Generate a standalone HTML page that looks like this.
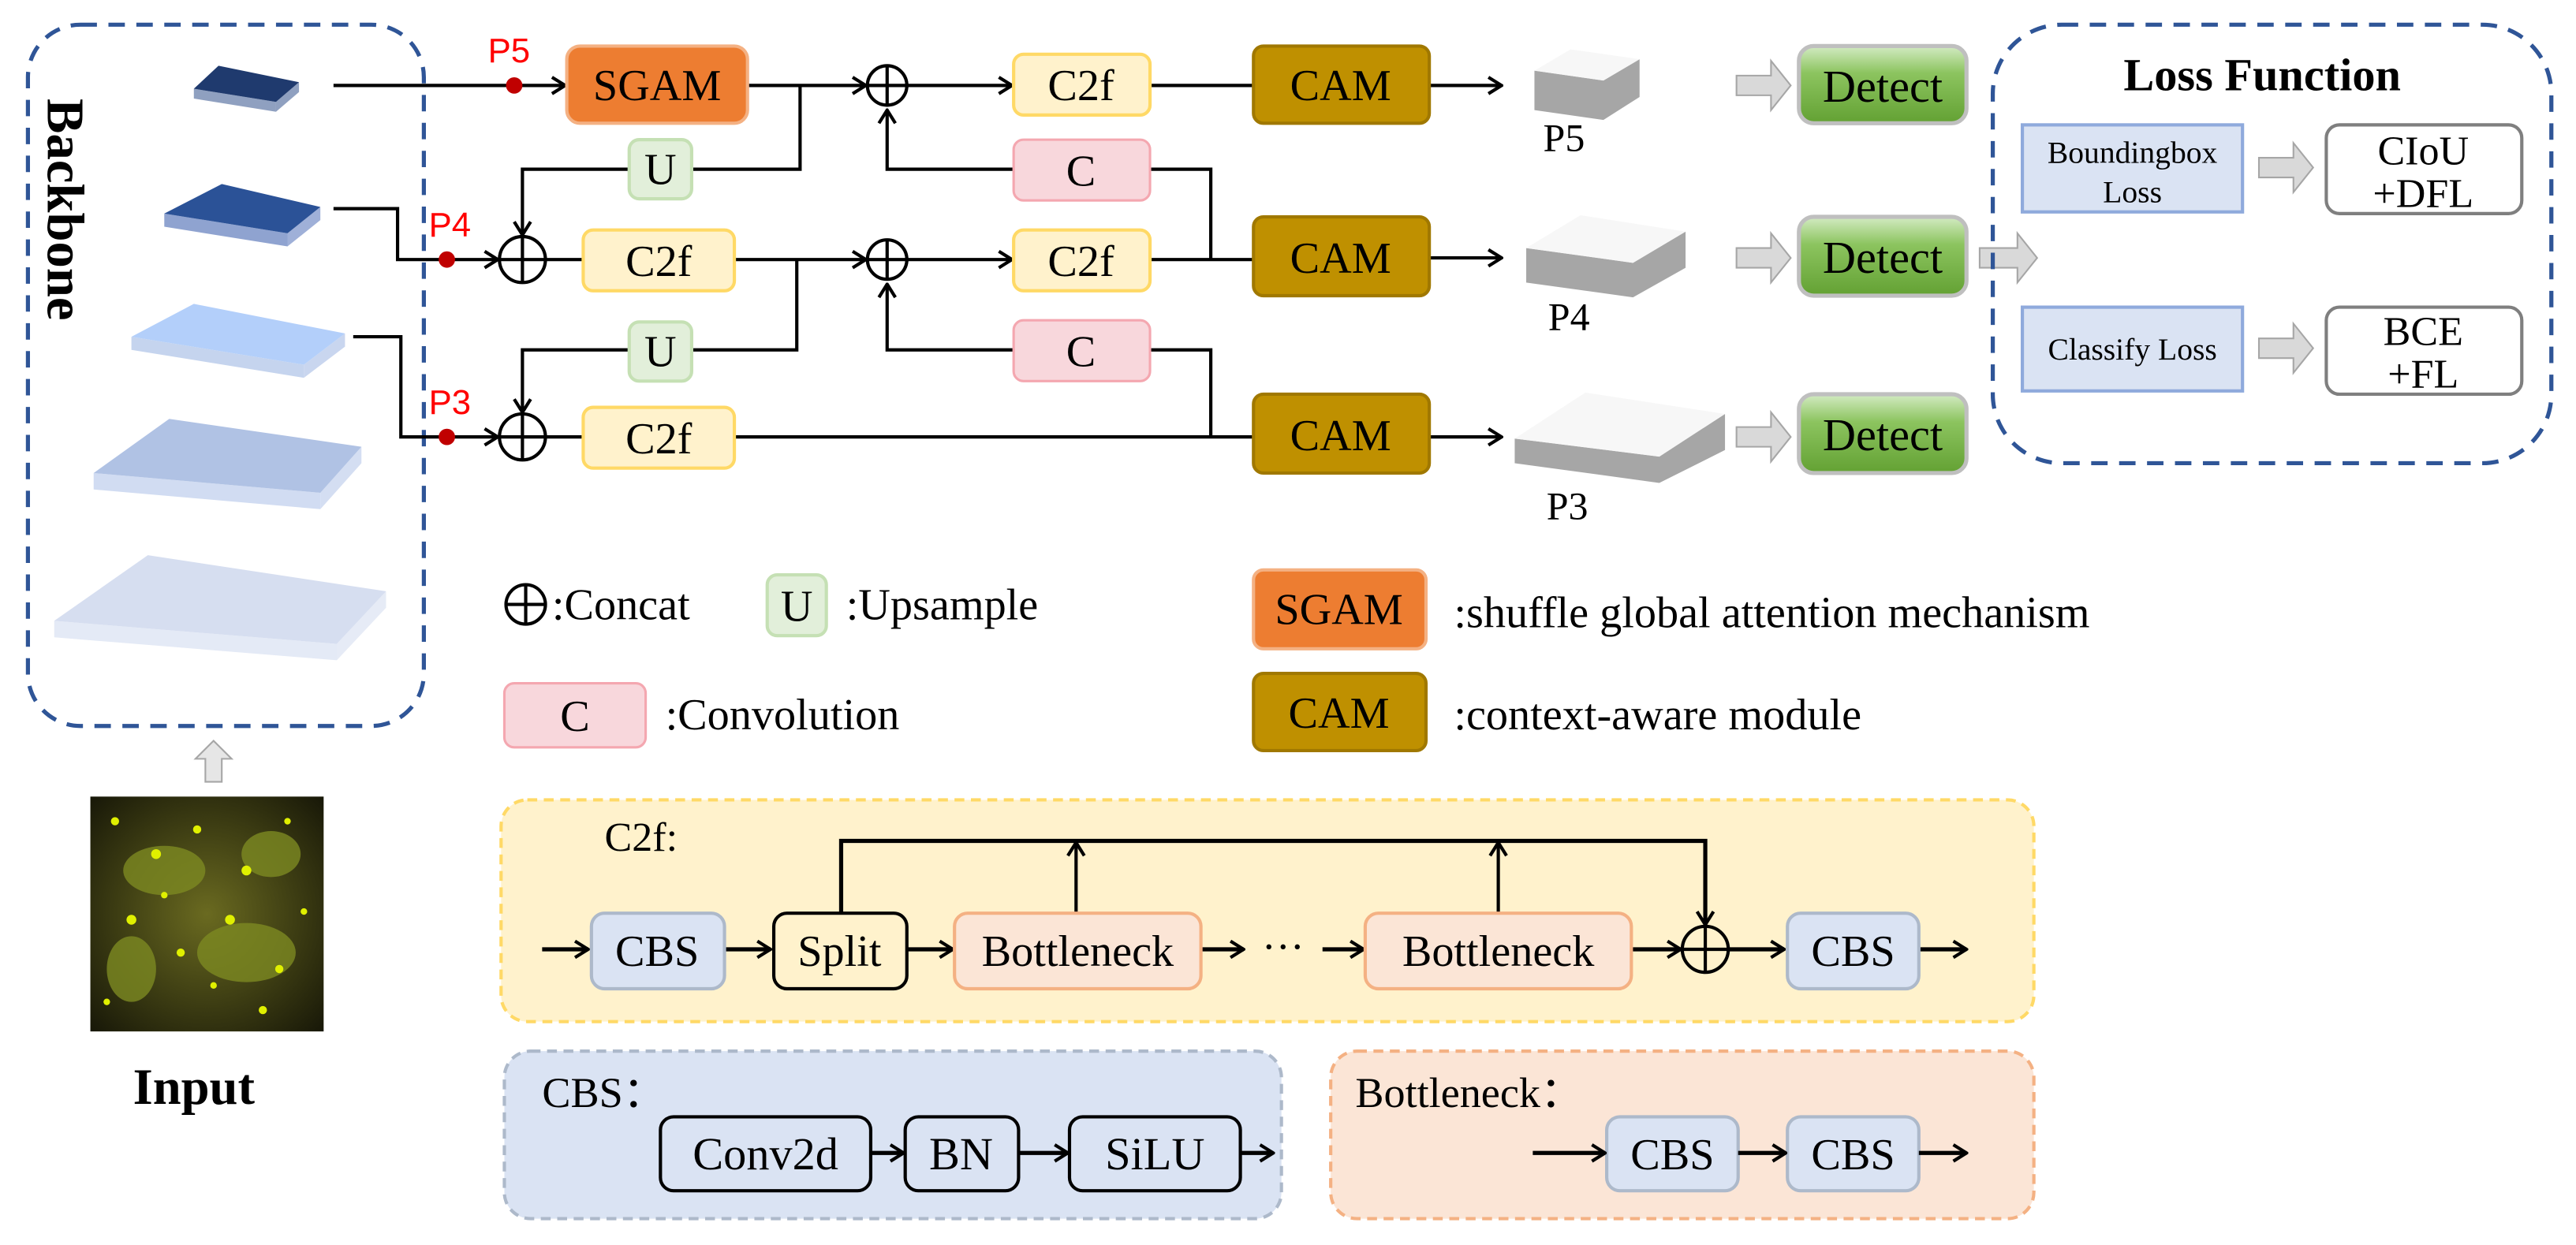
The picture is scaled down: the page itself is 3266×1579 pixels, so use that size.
<!DOCTYPE html>
<html><head><meta charset="utf-8"><style>
html,body{margin:0;padding:0;background:#fff;}
svg{display:block;}
text{font-family:"Liberation Serif",serif;}
</style></head><body>
<svg width="3266" height="1579" viewBox="0 0 1568 758" xmlns="http://www.w3.org/2000/svg">
<defs>
<marker id="a" markerWidth="10" markerHeight="12" refX="9" refY="6" orient="auto" markerUnits="userSpaceOnUse">
<path d="M1,1 L9,6 L1,11" fill="none" stroke="#000" stroke-width="2"/></marker>
<linearGradient id="g" x1="0" y1="0" x2="0" y2="1"><stop offset="0" stop-color="#d3ebc3"/><stop offset="0.35" stop-color="#8cc45f"/><stop offset="1" stop-color="#63a133"/></linearGradient>
<radialGradient id="inp" cx="0.5" cy="0.5" r="0.7"><stop offset="0" stop-color="#6a6a20"/><stop offset="1" stop-color="#181808"/></radialGradient>
</defs>

<!-- Backbone -->
<rect x="17" y="15" width="241" height="427" rx="32" fill="none" stroke="#2f5597" stroke-width="2.5" stroke-dasharray="10,7"/>
<text transform="translate(29,60) rotate(90)" font-size="32" font-weight="bold">Backbone</text>
<polygon points="118,54 168,62 168,68 118,60" fill="#8fa0c0"/><polygon points="168,62 182,50 182,56 168,68" fill="#8fa0c0"/>
<polygon points="133,40 182,50 168,62 118,54" fill="#1f3a6e"/>
<polygon points="100,130 175,142 175,150 100,138" fill="#8fa3d0"/><polygon points="175,142 195,126 195,134 175,150" fill="#9fb0d8"/>
<polygon points="135,112 195,126 175,142 100,130" fill="#2b5297"/>
<polygon points="80,205 185,222 185,230 80,213" fill="#c5d4ee"/><polygon points="185,222 210,203 210,211 185,230" fill="#c9d6ef"/>
<polygon points="118,185 210,203 185,222 80,205" fill="#b3cffa"/>
<polygon points="57,288 195,300 195,310 57,298" fill="#d1dcf2"/><polygon points="195,300 220,272 220,282 195,310" fill="#d4def2"/>
<polygon points="103,255 220,272 195,300 57,288" fill="#b0c2e4"/>
<polygon points="33,378 205,392 205,402 33,388" fill="#e4eaf6"/><polygon points="205,392 235,360 235,370 205,402" fill="#e6ebf6"/>
<polygon points="90,338 235,360 205,392 33,378" fill="#d6def0"/>
<!-- input -->
<polygon points="125,476 135,476 135,462 141,462 130,451 119,462 125,462" fill="#e6e6e6" stroke="#a6a6a6" stroke-width="1"/>
<rect x="55" y="485" width="142" height="143" fill="url(#inp)"/>
<g fill="#7d8a22" opacity="0.8"><ellipse cx="100" cy="530" rx="25" ry="15"/><ellipse cx="150" cy="580" rx="30" ry="18"/><ellipse cx="80" cy="590" rx="15" ry="20"/><ellipse cx="165" cy="520" rx="18" ry="14"/></g>
<g fill="#e0f000">
<circle cx="70" cy="500" r="2.5"/><circle cx="95" cy="520" r="3"/><circle cx="120" cy="505" r="2.5"/><circle cx="150" cy="530" r="3"/><circle cx="175" cy="500" r="2"/><circle cx="80" cy="560" r="3"/><circle cx="110" cy="580" r="2.5"/><circle cx="140" cy="560" r="3"/><circle cx="170" cy="590" r="2.5"/><circle cx="65" cy="610" r="2"/><circle cx="100" cy="545" r="2"/><circle cx="160" cy="615" r="2.5"/><circle cx="185" cy="555" r="2"/><circle cx="130" cy="600" r="2"/></g>
<text x="118" y="672" font-size="31" font-weight="bold" text-anchor="middle">Input</text>

<!-- connections -->
<g stroke="#000" stroke-width="2" fill="none">
<line x1="203" y1="52" x2="344" y2="52" marker-end="url(#a)"/>
<polyline points="203,127 242,127 242,158 303,158" marker-end="url(#a)"/>
<polyline points="215,205 244,205 244,266 303,266" marker-end="url(#a)"/>
<polyline points="455,52 527,52" marker-end="url(#a)"/>
<polyline points="487,52 487,103 421,103"/>
<polyline points="383,103 318,103 318,143" marker-end="url(#a)"/>
<line x1="332" y1="158" x2="355" y2="158"/>
<polyline points="447,158 527,158" marker-end="url(#a)"/>
<polyline points="485,158 485,213 421,213"/>
<polyline points="383,213 318,213 318,251" marker-end="url(#a)"/>
<line x1="332" y1="266" x2="355" y2="266"/>
<line x1="447" y1="266" x2="763" y2="266"/>
<polyline points="552,52 616,52" marker-end="url(#a)"/>
<polyline points="552,158 616,158" marker-end="url(#a)"/>
<line x1="700" y1="52" x2="763" y2="52"/>
<line x1="700" y1="158" x2="763" y2="158"/>
<polyline points="700,103 737,103 737,158"/>
<polyline points="700,213 737,213 737,266"/>
<polyline points="617,103 540,103 540,67" marker-end="url(#a)"/>
<polyline points="617,213 540,213 540,173" marker-end="url(#a)"/>
<line x1="870" y1="52" x2="914" y2="52" marker-end="url(#a)"/>
<line x1="870" y1="157" x2="914" y2="157" marker-end="url(#a)"/>
<line x1="870" y1="266" x2="914" y2="266" marker-end="url(#a)"/>
</g>
<g fill="#c00000"><circle cx="313" cy="52" r="5"/><circle cx="272" cy="158" r="5"/><circle cx="272" cy="266" r="5"/></g>
<g font-size="21"><text x="297" y="38" style="fill:#f00;font-family:'Liberation Sans',sans-serif">P5</text><text x="261" y="144" style="fill:#f00;font-family:'Liberation Sans',sans-serif">P4</text><text x="261" y="252" style="fill:#f00;font-family:'Liberation Sans',sans-serif">P3</text></g>
<g fill="#fff" stroke="#000" stroke-width="2">
<circle cx="540" cy="52" r="12"/><circle cx="540" cy="158" r="12"/><circle cx="318" cy="158" r="14"/><circle cx="318" cy="266" r="14"/></g>
<g stroke="#000" stroke-width="2"><path d="M528,52H552M540,40V64M528,158H552M540,146V170M304,158H332M318,144V172M304,266H332M318,252V280"/></g>

<!-- boxes -->
<rect x="345" y="28" width="110" height="47" rx="8" fill="#ed7d31" stroke="#f4b183" stroke-width="2"/>
<text x="400" y="61" font-size="27" text-anchor="middle">SGAM</text>
<g fill="#e2efda" stroke="#c5e0b4" stroke-width="2"><rect x="383" y="85" width="38" height="36" rx="6"/><rect x="383" y="196" width="38" height="36" rx="6"/></g>
<text x="402" y="112" font-size="27" text-anchor="middle">U</text><text x="402" y="223" font-size="27" text-anchor="middle">U</text>
<g fill="#fff2cc" stroke="#ffd966" stroke-width="2"><rect x="355" y="140" width="92" height="37" rx="6"/><rect x="355" y="248" width="92" height="37" rx="6"/><rect x="617" y="33" width="83" height="37" rx="6"/><rect x="617" y="140" width="83" height="37" rx="6"/></g>
<g font-size="27" text-anchor="middle"><text x="401" y="168">C2f</text><text x="401" y="276">C2f</text><text x="658" y="61">C2f</text><text x="658" y="168">C2f</text></g>
<g fill="#f8d7dc" stroke="#f4a7b0" stroke-width="1.5"><rect x="617" y="85" width="83" height="37" rx="6"/><rect x="617" y="195" width="83" height="37" rx="6"/></g>
<text x="658" y="113" font-size="27" text-anchor="middle">C</text><text x="658" y="223" font-size="27" text-anchor="middle">C</text>
<g fill="#bf9000" stroke="#a07800" stroke-width="2"><rect x="763" y="28" width="107" height="47" rx="6"/><rect x="763" y="132" width="107" height="48" rx="6"/><rect x="763" y="240" width="107" height="48" rx="6"/></g>
<g font-size="27" text-anchor="middle"><text x="816" y="61">CAM</text><text x="816" y="166">CAM</text><text x="816" y="274">CAM</text></g>
<!-- cubes -->
<g fill="#a6a6a6">
<polygon points="934,43 976,49 998,36 998,59 976,73 934,67"/>
<polygon points="929,151 994,160 1026,141 1026,163 994,181 929,172"/>
<polygon points="922,267 1010,278 1050,252 1050,274 1010,294 922,282"/>
</g>
<g fill="#f7f7f7">
<polygon points="956,30 998,36 976,49 934,43"/>
<polygon points="962,131 1026,141 994,160 929,151"/>
<polygon points="965,239 1050,252 1010,278 922,267"/>
</g>
<g font-size="24" text-anchor="middle"><text x="952" y="92">P5</text><text x="955" y="201">P4</text><text x="954" y="316">P3</text></g>
<!-- block arrows -->
<g fill="#d9d9d9" stroke="#a6a6a6" stroke-width="1">
<path d="M1057,46H1078V37L1090,52L1078,67V58H1057Z"/>
<path d="M1057,151H1078V142L1090,157L1078,172V163H1057Z"/>
<path d="M1057,260H1078V251L1090,266L1078,281V272H1057Z"/>
<path d="M1205,151H1228V142L1240,157L1228,172V163H1205Z"/>
<path d="M1375,96H1396V87L1408,102L1396,117V108H1375Z"/>
<path d="M1375,206H1396V197L1408,212L1396,227V218H1375Z"/>
</g>
<g fill="url(#g)" stroke="#bfbfbf" stroke-width="2.5"><rect x="1095" y="28" width="102" height="47" rx="9"/><rect x="1095" y="132" width="102" height="48" rx="9"/><rect x="1095" y="240" width="102" height="48" rx="9"/></g>
<g font-size="28" text-anchor="middle"><text x="1146" y="62">Detect</text><text x="1146" y="166">Detect</text><text x="1146" y="274">Detect</text></g>
<!-- loss -->
<rect x="1213" y="15" width="340" height="267" rx="42" fill="none" stroke="#2f5597" stroke-width="2.5" stroke-dasharray="10,7"/>
<text x="1377" y="55" font-size="28" font-weight="bold" text-anchor="middle">Loss Function</text>
<g fill="#dae3f3" stroke="#8faadc" stroke-width="2"><rect x="1231" y="76" width="134" height="53"/><rect x="1231" y="187" width="134" height="51"/></g>
<g font-size="19" text-anchor="middle"><text x="1298" y="99">Boundingbox</text><text x="1298" y="123">Loss</text><text x="1298" y="219">Classify Loss</text></g>
<g fill="#fff" stroke="#7f7f7f" stroke-width="2"><rect x="1416" y="76" width="119" height="54" rx="8"/><rect x="1416" y="187" width="119" height="53" rx="8"/></g>
<g font-size="25" text-anchor="middle"><text x="1475" y="100">CIoU</text><text x="1475" y="126">+DFL</text><text x="1475" y="210">BCE</text><text x="1475" y="236">+FL</text></g>

<!-- legend -->
<circle cx="320" cy="368" r="12" fill="#fff" stroke="#000" stroke-width="2"/><path d="M308,368H332M320,356V380" stroke="#000" stroke-width="2"/>
<text x="336" y="377" font-size="27">:Concat</text>
<rect x="467" y="350" width="36" height="37" rx="6" fill="#e2efda" stroke="#c5e0b4" stroke-width="2"/><text x="485" y="378" font-size="27" text-anchor="middle">U</text>
<text x="515" y="377" font-size="27">:Upsample</text>
<rect x="307" y="416" width="86" height="39" rx="6" fill="#f8d7dc" stroke="#f4a7b0" stroke-width="1.5"/><text x="350" y="445" font-size="27" text-anchor="middle">C</text>
<text x="405" y="444" font-size="27">:Convolution</text>
<rect x="763" y="347" width="105" height="48" rx="6" fill="#ed7d31" stroke="#f4b183" stroke-width="2"/><text x="815" y="380" font-size="27" text-anchor="middle">SGAM</text>
<text x="885" y="382" font-size="27">:shuffle global attention mechanism</text>
<rect x="763" y="410" width="105" height="47" rx="6" fill="#bf9000" stroke="#a07800" stroke-width="2"/><text x="815" y="443" font-size="27" text-anchor="middle">CAM</text>
<text x="885" y="444" font-size="27">:context-aware module</text>

<!-- C2f panel -->
<rect x="305" y="487" width="933" height="135" rx="16" fill="#fff2cc" stroke="#ffd966" stroke-width="2" stroke-dasharray="6,4"/>
<text x="368" y="518" font-size="25">C2f:</text>
<g stroke="#000" stroke-width="2.5" fill="none">
<line x1="330" y1="578" x2="358" y2="578" marker-end="url(#a)"/>
<line x1="441" y1="578" x2="469" y2="578" marker-end="url(#a)"/>
<line x1="552" y1="578" x2="580" y2="578" marker-end="url(#a)"/>
<line x1="731" y1="578" x2="757" y2="578" marker-end="url(#a)"/>
<line x1="805" y1="578" x2="830" y2="578" marker-end="url(#a)"/>
<line x1="993" y1="578" x2="1023" y2="578" marker-end="url(#a)"/>
<line x1="1052" y1="578" x2="1086" y2="578" marker-end="url(#a)"/>
<line x1="1168" y1="578" x2="1197" y2="578" marker-end="url(#a)"/>
<polyline points="512,556 512,512 1038,512 1038,563" stroke-width="2.5" marker-end="url(#a)"/>
<line x1="655" y1="556" x2="655" y2="513" stroke-width="2" marker-end="url(#a)"/>
<line x1="912" y1="556" x2="912" y2="513" stroke-width="2" marker-end="url(#a)"/>
</g>
<text x="781" y="585" font-size="26" text-anchor="middle">···</text>
<circle cx="1038" cy="578" r="14" fill="#fff2cc" stroke="#000" stroke-width="2"/><path d="M1024,578H1052M1038,564V592" stroke="#000" stroke-width="2"/>
<g fill="#dae3f3" stroke="#adb9ca" stroke-width="2"><rect x="360" y="556" width="81" height="46" rx="8"/><rect x="1088" y="556" width="80" height="46" rx="8"/></g>
<rect x="471" y="556" width="81" height="46" rx="8" fill="#fff2cc" stroke="#000" stroke-width="2"/>
<g fill="#fbe5d6" stroke="#f4b183" stroke-width="2"><rect x="581" y="556" width="150" height="46" rx="8"/><rect x="831" y="556" width="162" height="46" rx="8"/></g>
<g font-size="27" text-anchor="middle"><text x="400" y="588">CBS</text><text x="511" y="588">Split</text><text x="656" y="588">Bottleneck</text><text x="912" y="588">Bottleneck</text><text x="1128" y="588">CBS</text></g>

<!-- CBS panel -->
<rect x="307" y="640" width="473" height="102" rx="16" fill="#dae3f3" stroke="#adb9ca" stroke-width="2" stroke-dasharray="6,4"/>
<text x="330" y="674" font-size="26">CBS：</text>
<g fill="#dae3f3" stroke="#000" stroke-width="2"><rect x="402" y="680" width="128" height="45" rx="8"/><rect x="551" y="680" width="69" height="45" rx="8"/><rect x="651" y="680" width="104" height="45" rx="8"/></g>
<g font-size="28" text-anchor="middle"><text x="466" y="712">Conv2d</text><text x="585" y="712">BN</text><text x="703" y="712">SiLU</text></g>
<g stroke="#000" stroke-width="2.5"><line x1="530" y1="702" x2="550" y2="702" marker-end="url(#a)"/><line x1="620" y1="702" x2="650" y2="702" marker-end="url(#a)"/><line x1="755" y1="702" x2="775" y2="702" marker-end="url(#a)"/></g>

<!-- Bottleneck panel -->
<rect x="810" y="640" width="428" height="102" rx="16" fill="#fbe5d6" stroke="#f4b183" stroke-width="2" stroke-dasharray="6,4"/>
<text x="825" y="674" font-size="26">Bottleneck：</text>
<g fill="#dae3f3" stroke="#adb9ca" stroke-width="2"><rect x="978" y="680" width="80" height="45" rx="8"/><rect x="1088" y="680" width="80" height="45" rx="8"/></g>
<g font-size="27" text-anchor="middle"><text x="1018" y="712">CBS</text><text x="1128" y="712">CBS</text></g>
<g stroke="#000" stroke-width="2.5"><line x1="933" y1="702" x2="977" y2="702" marker-end="url(#a)"/><line x1="1058" y1="702" x2="1087" y2="702" marker-end="url(#a)"/><line x1="1168" y1="702" x2="1197" y2="702" marker-end="url(#a)"/></g>
</svg>
</body></html>
